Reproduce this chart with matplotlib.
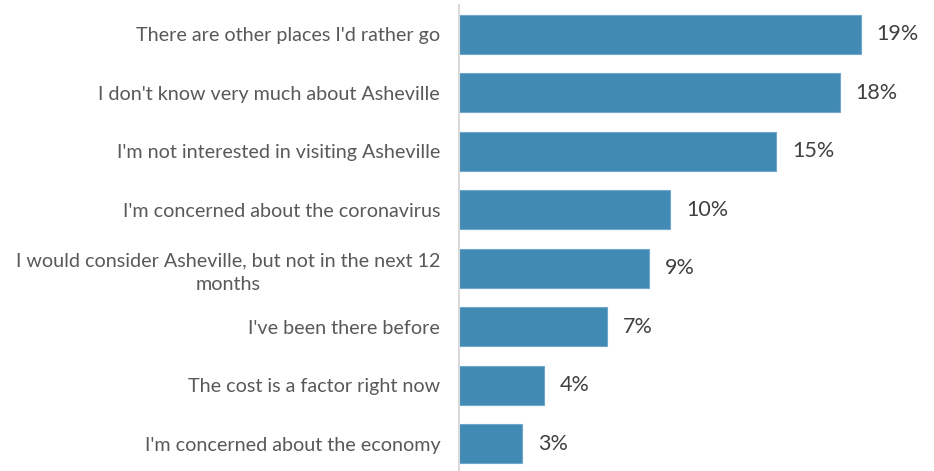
import matplotlib
matplotlib.use("Agg")
import matplotlib.pyplot as plt

reasons = [
    "There are other places I'd rather go",
    "I don't know very much about Asheville",
    "I'm not interested in visiting Asheville",
    "I'm concerned about the coronavirus",
    "I would consider Asheville, but not in the next 12\nmonths",
    "I've been there before",
    "The cost is a factor right now",
    "I'm concerned about the economy",
]
shares = [19, 18, 15, 10, 9, 7, 4, 3]

plt.rcParams["font.family"] = ["Lato", "DejaVu Sans"]

W, H = 934, 471
fig = plt.figure(figsize=(W / 100, H / 100), dpi=100)
ax = fig.add_axes([459 / W, -2 / H, 444 / W, 468 / H])

ypos = list(range(len(reasons)))
ax.barh(ypos, shares, height=0.67, color="#418AB3", edgecolor="#6FA8CC", linewidth=0.8)

for y, v in zip(ypos, shares):
    ax.text(v + 0.75, y, f"{v}%", va="center", ha="left", fontsize=15.5, color="#404040")

ax.set_xlim(0, 21)
ax.set_ylim(len(reasons) - 0.5, -0.5)
ax.set_yticks(ypos)
ax.set_yticklabels(reasons, fontsize=14.2, color="#595959",
                   multialignment="center", linespacing=1.45)
ax.tick_params(axis="y", length=0, pad=13.5)
ax.set_xticks([])

for side in ("top", "right", "bottom"):
    ax.spines[side].set_visible(False)
ax.spines["left"].set_color("#D9D9D9")
ax.spines["left"].set_linewidth(1.5)

fig.savefig("out.png", dpi=100)
